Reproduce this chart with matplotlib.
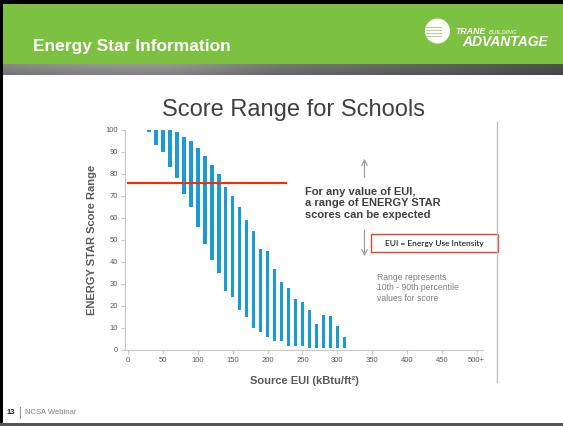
import numpy as np
from matplotlib import pyplot as plt
from matplotlib.patches import Rectangle, Circle

plt.rcParams['font.family'] = ['Liberation Sans', 'DejaVu Sans']

# source EUI bins and 10th / 90th percentile score range
eui = [30, 40, 50, 60, 70, 80, 90, 100, 110, 120, 130, 140, 150, 160, 170,
       180, 190, 200, 210, 220, 230, 240, 250, 260, 270, 280, 290, 300, 310]
score_top = [100, 100, 100, 100, 99, 97, 95, 92, 88, 84, 80, 74, 70, 65, 59,
             54, 46, 45, 37, 31, 28, 23, 22, 18, 12, 16, 15.5, 11, 6]
score_bottom = [99.2, 93, 90, 83, 78, 71, 65, 56, 48, 41, 35, 27, 24, 18, 15,
                10, 8, 6, 4, 4, 2, 2, 2, 1, 1, 1, 1, 1, 1]
target_score = 76
target_eui_end = 226
x_ticks = [0, 50, 100, 150, 200, 250, 300, 350, 400, 450, 500]
x_tick_labels = ['0', '50', '100', '150', '200', '250', '300', '350', '400', '450', '500+']
y_ticks = [0, 10, 20, 30, 40, 50, 60, 70, 80, 90, 100]

W, H = 563, 426
fig = plt.figure(figsize=(W / 100, H / 100), dpi=100)
fig.patch.set_facecolor('white')

# slide background, pixel coords
bg = fig.add_axes([0, 0, 1, 1])
bg.set_xlim(0, W)
bg.set_ylim(H, 0)
bg.axis('off')

bg.add_patch(Rectangle((0, 3), W, 61, color='#7dc142', lw=0))
# grey band under the header: lighter left of centre, darker to the right
xs = np.linspace(0, 1, 300)
row = 0.50 + 0.06 * np.sin(np.pi * np.clip(xs / 0.5, 0, 1)) - 0.2 * np.clip((xs - 0.3) / 0.7, 0, 1)
grad = row[None, :] * np.linspace(1.06, 0.9, 12)[:, None]
bg.imshow(grad, cmap='gray', vmin=0, vmax=1, extent=[0, W, 75, 64], aspect='auto', zorder=1)
bg.add_patch(Rectangle((0, 0), W, 3.5, color='black', lw=0, zorder=2))
bg.add_patch(Rectangle((0, 0), 2.5, H, color='black', lw=0, zorder=2))
bg.add_patch(Rectangle((0, 423), W, 3, color='#555555', lw=0, zorder=2))
bg.plot([497, 497], [122, 382], color='#bfbfbf', lw=1)

bg.text(33, 46, 'Energy Star Information', color='white', fontsize=12.5,
        fontweight='bold', va='center', ha='left')

# logo
bg.add_patch(Circle((437.5, 31), 12.5, color='white', lw=0, zorder=3))
for yy in [27, 30, 33, 36]:
    bg.plot([426, 441], [yy, yy], color='#9ccf6e', lw=0.6, zorder=4)
bg.text(455, 31.5, 'TRANE', color='white', fontsize=6.3, fontweight='bold',
        style='italic', va='center', ha='left')
bg.text(489, 32, 'BUILDING', color='white', fontsize=4.3, style='italic',
        va='center', ha='left')
bg.text(462, 42, 'ADVANTAGE', color='white', fontsize=10, fontweight='bold',
        style='italic', va='center', ha='left')

bg.text(293, 110, 'Score Range for Schools', color='#404040', fontsize=17,
        va='center', ha='center')

# annotations
bg.text(305, 203.5, 'For any value of EUI,\na range of ENERGY STAR\nscores can be expected',
        color='#404040', fontsize=8, fontweight='bold', va='center', ha='left',
        linespacing=1.15)
bg.annotate('', xy=(364.5, 156), xytext=(364.5, 180),
            arrowprops=dict(arrowstyle='->', color='#999999', lw=0.8))
bg.annotate('', xy=(364.5, 259), xytext=(364.5, 227),
            arrowprops=dict(arrowstyle='->', color='#999999', lw=0.8))
bg.add_patch(Rectangle((371, 234), 126.5, 18, fill=False, edgecolor='#e8442b', lw=1))
bg.text(434.5, 243.5, 'EUI = Energy Use Intensity', color='black', fontsize=6,
        family=['Lato', 'DejaVu Sans'], va='center', ha='center')
bg.text(377, 288, 'Range represents\n10th - 90th percentile\nvalues for score',
        color='#7f7f7f', fontsize=6.2, va='center', ha='left', linespacing=1.25)

# footer
bg.text(7, 412.5, '13', color='#222222', fontsize=5.5, fontweight='bold', va='center')
bg.plot([20, 20], [407, 418], color='#999999', lw=0.8)
bg.text(25, 412.5, 'NCSA Webinar', color='#7f7f7f', fontsize=5.5, va='center')

# chart
ax = fig.add_axes([125 / W, 1 - 350 / H, (483 - 125) / W, 220 / H])
ax.patch.set_alpha(0)
heights = [t - b for t, b in zip(score_top, score_bottom)]
ax.bar(eui, heights, bottom=score_bottom, width=5, color='#1a9ad6', lw=0, zorder=2)
ax.plot([0, target_eui_end], [target_score, target_score], color='#ff2a00', lw=1.5, zorder=3)

ax.set_xlim(-4.5, 509)
ax.set_ylim(0, 100)
ax.set_xticks(x_ticks)
ax.set_xticklabels(x_tick_labels)
ax.set_yticks(y_ticks)
for s in ['top', 'right']:
    ax.spines[s].set_visible(False)
for s in ['left', 'bottom']:
    ax.spines[s].set_color('#c8c8c8')
    ax.spines[s].set_linewidth(0.8)
ax.tick_params(colors='#c8c8c8', labelcolor='#595959', labelsize=5.5, length=3, width=0.8, pad=2)
ax.set_xlabel('Source EUI (kBtu/ft²)', color='#595959', fontsize=8, fontweight='bold', labelpad=9)
ax.set_ylabel('ENERGY STAR Score Range', color='#595959', fontsize=8, fontweight='bold', labelpad=6)

fig.savefig('out.png', dpi=100)
